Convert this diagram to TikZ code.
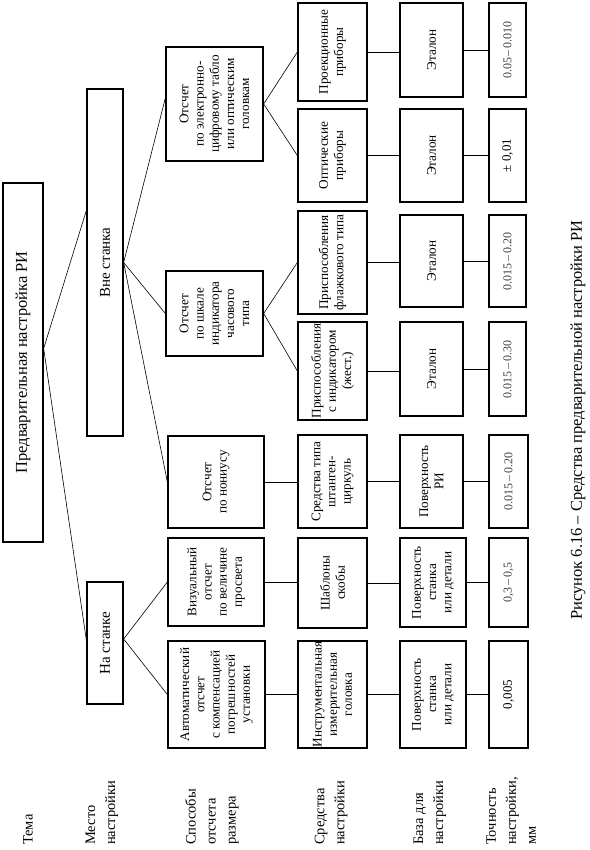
\documentclass[tikz,border=0pt]{standalone}
\usepackage{fontspec}
\setmainfont{Liberation Serif}
\usetikzlibrary{calc}

\begin{document}
\begin{tikzpicture}[
  x=1pt, y=-1pt,
  every node/.style={rotate=90,align=center,inner sep=1pt},
  rootbox/.style={draw,line width=1.3pt,minimum height=40pt,
                  font={\fontsize{16.5}{19}\selectfont}},
  placebox/.style={draw,line width=1.3pt,minimum height=36pt,
                   font={\fontsize{15}{18}\selectfont}},
  waybox/.style={draw,line width=1.3pt,minimum height=97pt,
                 font={\fontsize{13.2}{15.2}\selectfont}},
  toolbox/.style={draw,line width=1.3pt,minimum height=69pt,
                  font={\fontsize{13.2}{15.2}\selectfont}},
  basebox/.style={draw,line width=1.3pt,minimum height=63pt,
                  font={\fontsize{13.2}{15.2}\selectfont}},
  accbox/.style={draw,line width=1.3pt,minimum height=37pt,
                 font={\fontsize{12}{14}\selectfont},text=black!75},
  rowlabel/.style={anchor=west,align=left,
                   font={\fontsize{14.5}{20}\selectfont}},
  link/.style={line width=0.6pt},
]
  \useasboundingbox (0,0) rectangle (589,850);

  % Theme and place
  \node[rootbox,minimum width=359pt] (root) at (23,362.5)
    {Предварительная настройка РИ};
  \node[placebox,minimum width=347pt] (vne) at (105,262.5) {Вне станка};
  \node[placebox,minimum width=122pt] (na) at (105,643) {На станке};

  % Reading methods
  \node[waybox,minimum width=114pt] (e1) at (214.5,104)
    {Отсчет\\по электронно-\\цифровому табло\\или оптическим\\головкам};
  \node[waybox,minimum width=85pt] (e2) at (214.5,313.5)
    {Отсчет\\по шкале\\индикатора\\часового\\типа};
  \node[waybox,minimum width=92pt,minimum height=96pt] (e3) at (216,482)
    {Отсчет\\по нониусу};
  \node[waybox,minimum width=88pt,minimum height=96pt] (e4) at (216,582)
    {Визуальный\\отсчет\\по величине\\просвета};
  \node[waybox,minimum width=107pt] (e5) at (216.5,694.5)
    {Автоматический\\отсчет\\с компенсацией\\погрешностей\\установки};

  % Setting means
  \node[toolbox,minimum width=98pt] (s1) at (332.5,52) {Проекционные\\приборы};
  \node[toolbox,minimum width=93pt] (s2) at (332.5,155.5) {Оптические\\приборы};
  \node[toolbox,minimum width=103pt] (s3) at (332.5,262.5)
    {Приспособления\\флажкового типа};
  \node[toolbox,minimum width=98pt] (s4) at (332.5,371)
    {Приспособления\\с индикатором\\(жест.)};
  \node[toolbox,minimum width=93pt] (s5) at (332.5,481.5)
    {Средства типа\\штанген-\\циркуль};
  \node[toolbox,minimum width=90pt] (s6) at (332.5,583) {Шаблоны\\скобы};
  \node[toolbox,minimum width=107pt,inner sep=0pt] (s7) at (332.5,694.5)
    {Инструментальная\\измерительная\\головка};

  % Setting bases
  \node[basebox,minimum width=94pt] (b1) at (431.5,50) {Эталон};
  \node[basebox,minimum width=93pt] (b2) at (431.5,155.5) {Эталон};
  \node[basebox,minimum width=92pt] (b3) at (431.5,261) {Эталон};
  \node[basebox,minimum width=94pt] (b4) at (431.5,369) {Эталон};
  \node[basebox,minimum width=93pt] (b5) at (431.5,481.5) {Поверхность\\РИ};
  \node[basebox,minimum width=89pt,minimum height=66pt] (b6) at (433,582.5)
    {Поверхность\\станка\\или детали};
  \node[basebox,minimum width=107pt,minimum height=66pt] (b7) at (433,694.5)
    {Поверхность\\станка\\или детали};

  % Accuracy
  \node[accbox,minimum width=94pt] (t1) at (507.5,50) {0.05\,–\,0.010};
  \node[accbox,minimum width=93pt,text=black,font={\fontsize{13}{15}\selectfont}]
    (t2) at (507.5,155.5) {± 0,01};
  \node[accbox,minimum width=92pt] (t3) at (507.5,261) {0.015\,–\,0.20};
  \node[accbox,minimum width=94pt] (t4) at (507.5,369) {0.015\,–\,0.30};
  \node[accbox,minimum width=93pt,minimum height=39pt] (t5) at (508.5,481.5)
    {0.015\,–\,0.20};
  \node[accbox,minimum width=89pt,minimum height=39pt] (t6) at (508.5,582.5)
    {0,3\,–\,0,5};
  \node[accbox,minimum width=107pt,minimum height=39pt,text=black,
        font={\fontsize{13}{15}\selectfont}] (t7) at (508.5,694.5) {0,005};

  % Row labels
  \node[rowlabel] (l1) at (28,846) {Тема};
  \node[rowlabel] (l2) at (102,846) {Место\\настройки};
  \node[rowlabel] (l3) at (212,846) {Способы\\отсчета\\размера};
  \node[rowlabel] (l4) at (331,846) {Средства\\настройки};
  \node[rowlabel] (l5) at (430,846) {База для\\настройки};
  \node[rowlabel] (l6) at (511,846) {Точность\\настройки,\\мм};

  % Caption
  \node[font={\fontsize{16.5}{19}\selectfont}] (cap) at (578,420)
    {Рисунок 6.16 – Средства предварительной настройки РИ};

  % Links
  \draw[link] ([yshift=14pt]root.south) -- ([yshift=52pt]vne.north);
  \draw[link] ([yshift=14pt]root.south) -- ([yshift=3pt]na.north);
  \draw[link] (vne.south) -- ([yshift=6pt]e1.north);
  \draw[link] (vne.south) -- (e2.north);
  \draw[link] (vne.south) -- (e3.north);
  \draw[link] ([yshift=4pt]na.south) -- (e4.north);
  \draw[link] ([yshift=4pt]na.south) -- (e5.north);
  \draw[link] (e1.south) -- (s1.north);
  \draw[link] (e1.south) -- (s2.north);
  \draw[link] (e2.south) -- (s3.north);
  \draw[link] (e2.south) -- (s4.north);
  \draw[link] (e3.south) -- (e3.south -| s5.north);
  \draw[link] (e4.south) -- (e4.south -| s6.north);
  \draw[link] (e5.south) -- (e5.south -| s7.north);
  \foreach \i in {1,...,7}{
    \draw[link] (s\i.south) -- (s\i.south -| b\i.north);
    \draw[link] (b\i.south) -- (b\i.south -| t\i.north);
  }
\end{tikzpicture}
\end{document}
